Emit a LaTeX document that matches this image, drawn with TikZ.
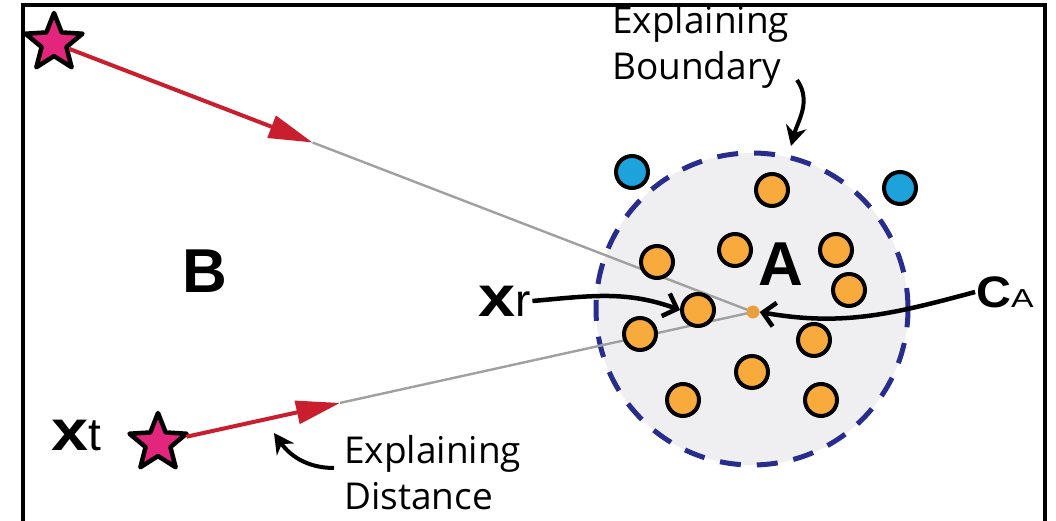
\documentclass[tikz,border=0pt]{standalone}
\usepackage{fontspec}
\setmainfont{Open Sans}
\newfontfamily\labelfont{Liberation Sans}
\usetikzlibrary{positioning, arrows.meta, shapes.geometric, calc}
\definecolor{starpink}{RGB}{228,37,125}
\definecolor{arrowred}{RGB}{200,30,45}
\definecolor{dotorange}{RGB}{248,170,60}
\definecolor{centreorange}{RGB}{232,160,62}
\definecolor{dotblue}{RGB}{30,162,220}
\definecolor{regiongray}{RGB}{239,239,241}
\definecolor{boundaryblue}{RGB}{40,44,140}
\definecolor{linegray}{RGB}{160,160,160}
\newcommand{\heavyx}{\scalebox{1.45}[1.25]{\bfseries x}}

\begin{document}
\begin{tikzpicture}[x=1pt, y=1pt,
    point/.style={circle, draw=black, line width=4pt, minimum size=32pt, inner sep=0pt},
    sample/.style={star, star points=5, star point ratio=2.3, draw=black, line join=round,
        line width=4.5pt, fill=starpink, minimum size=60pt, inner sep=0pt},
    note/.style={align=left, inner sep=0pt, anchor=north west, font=\fontsize{37}{46}\selectfont},
    letter/.style={font=\labelfont\fontsize{46}{46}\selectfont, inner sep=1pt},
    pointer/.style={line width=4.5pt, -{Straight Barb[length=12pt, width=24pt]}},
    curly/.style={line width=4pt, -{Stealth[length=20pt, width=21pt]}},
    ray/.style={line width=2.4pt, draw=linegray},
    shot/.style={line width=4pt, draw=arrowred, -{Triangle[length=44pt, width=23pt]}}
]
\useasboundingbox (0,0) rectangle (1056,521);
\draw[line width=4pt] (23,0) -- (23,516) -- (1045,516) -- (1045,0);

\node[circle, minimum size=312pt, fill=regiongray, draw=boundaryblue, line width=5pt,
    dash pattern=on 21pt off 16pt] (region) at (752,212) {};
\coordinate (c) at (753,209);

\node[sample] (s1) at (54,478) {};
\node[sample] (s2) at (158,78) {};
\coordinate (h1) at ($(s1)!0.37!(c)$);
\coordinate (h2) at ($(s2)!0.306!(c)$);
\draw[ray] (h1) -- (c);
\draw[ray] (h2) -- (c);
\draw[shot] (s1) -- (h1);
\draw[shot] (s2) -- (h2);

\foreach \x/\y [count=\i] in {772/331, 657/259, 735/271, 836/271, 849/231, 698/211,
    640/187, 814/181, 752/149, 683/121, 821/121} {
    \node[point, fill=dotorange] (o\i) at (\x,\y) {};
}
\node[point, fill=dotblue] (b1) at (632,349) {};
\node[point, fill=dotblue] (b2) at (900,333) {};
\node[circle, fill=centreorange, minimum size=13pt, inner sep=0pt] (ca) at (c) {};

\node[font=\labelfont\bfseries\fontsize{62}{62}\selectfont] (lb) at (205,250) {B};
\node[font=\labelfont\bfseries\fontsize{62}{62}\selectfont] (la) at (781,257) {A};
\node[letter] (xr) at (505,220) {\heavyx r};
\node[letter] (xt) at (76,86) {\heavyx t};
\node[letter, font=\labelfont\fontsize{42}{42}\selectfont] (cal) at (1005,229)
    {\scalebox{1.15}[1.05]{\bfseries C}\scalebox{1.3}[1]{\fontsize{26}{26}\selectfont A}};

\node[note] (eb) at (612,516) {Explaining\\Boundary};
\node[note] (ed) at (344,86) {Explaining\\Distance};

\coordinate (bs) at (797,441);
\coordinate (bt) at (791,375);
\draw[curly] (bs) to[out=-55, in=75] (bt);
\coordinate (ds) at (334,53);
\coordinate (dt) at (274,88);
\draw[curly] (ds) to[out=180, in=-55] (dt);

\draw[pointer] (xr.east) to[out=5, in=160] (o6.west);
\draw[pointer] (cal.west) to[out=195, in=-10] (ca.east);
\end{tikzpicture}
\end{document}
